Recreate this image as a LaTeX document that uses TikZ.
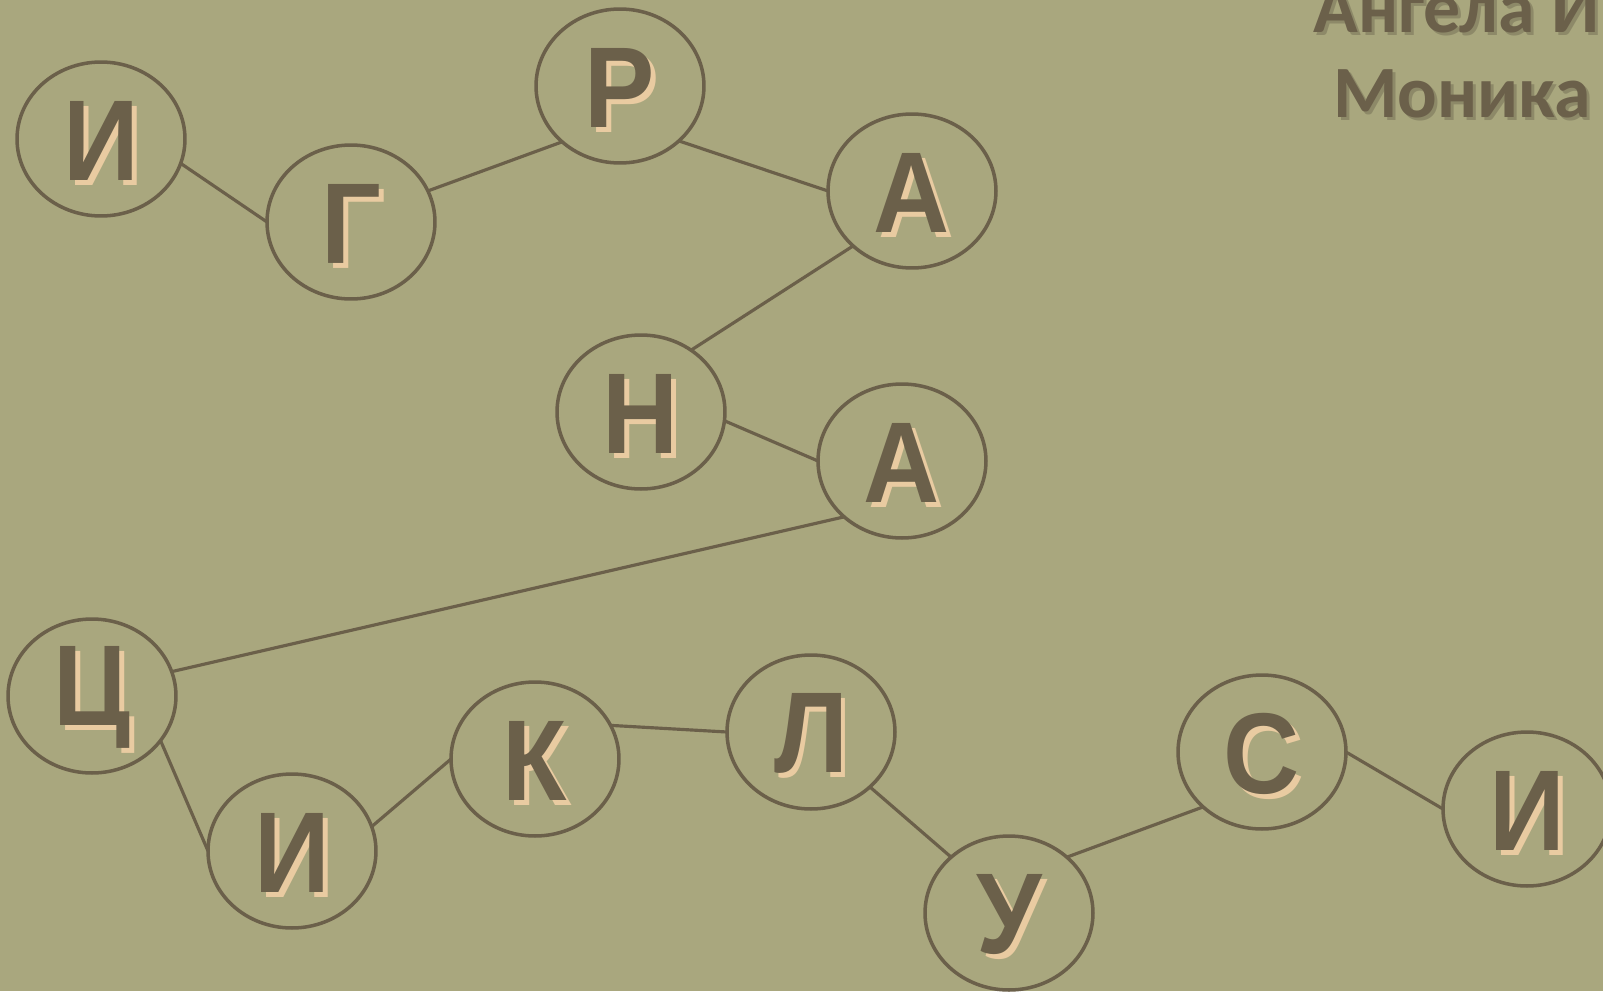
\documentclass[tikz,border=0pt]{standalone}
\usepackage{fontspec}
\usetikzlibrary{shapes.geometric}
\newfontfamily\ltrfont{Liberation Sans}[BoldFont={* Bold}]
\newfontfamily\ttlfont{Carlito}[BoldFont={* Bold}]
\definecolor{bgolive}{HTML}{A9A77E}
\definecolor{ink}{HTML}{6B604A}
\definecolor{shade}{HTML}{E9CBA1}
\definecolor{ttlshade}{HTML}{5A5341}
\newcommand{\shadowed}[1]{\raisebox{-2.3pt}[\height][\depth]{\scalebox{1}[1.09]{\rlap{\kern2.8pt\raisebox{-2.6pt}{\color{shade}#1}}{\color{ink}#1}}}}
\tikzset{
  letterbox/.style={ellipse, draw=ink, line width=2pt, inner sep=0pt, outer sep=0pt,
    minimum width=3.36cm, minimum height=3.08cm,
    font=\ltrfont\bfseries\fontsize{60}{62}\selectfont},
  link/.style={draw=ink, line width=1.8pt},
  ttl/.style={inner sep=0pt, font=\ttlfont\bfseries\fontsize{42}{44}\selectfont}
}
\begin{document}
\begin{tikzpicture}[x=0.02cm, y=-0.02cm]
  \fill[bgolive] (0,0) rectangle (1603,991);
  \useasboundingbox (0,0) rectangle (1603,991);
  \clip (0,0) rectangle (1603,991);

  % Title
  \node[ttl, anchor=base west, text=ttlshade, opacity=0.35] at (1316,35) {Ангела И};
  \node[ttl, anchor=base west, text=ink] (name1) at (1313,32) {Ангела И};
  \node[ttl, anchor=base, text=ttlshade, opacity=0.35] at (1465,120) {Моника};
  \node[ttl, anchor=base, text=ink] (name2) at (1462,117) {Моника};

  % Nodes
  \foreach \n/\t/\x/\y in {I1/И/101/139, G/Г/351/222, R/Р/620/86, A1/А/912/191,
      N/Н/641/412, A2/А/902/461, C/Ц/92/696, I2/И/292/851, K/К/535/759,
      L/Л/811/732, U/У/1009/913, S/С/1262/752, I3/И/1527/809}
    \node[letterbox] (\n) at (\x,\y) {\shadowed{\t}};

  % Lines
  \foreach \a/\b in {I1.-17/G.west, G.22/R.-136, R.-43/A1.west, A1.-137/N.51,
      N.-6/A2.west, A2.-136/C.17, C.-33/I2.west, I2.17/K.west, K.24/L.west,
      L.-43/U.136, U.44/S.-137, S.east/I3.west}
    \draw[link] (\a) -- (\b);

\end{tikzpicture}
\end{document}
